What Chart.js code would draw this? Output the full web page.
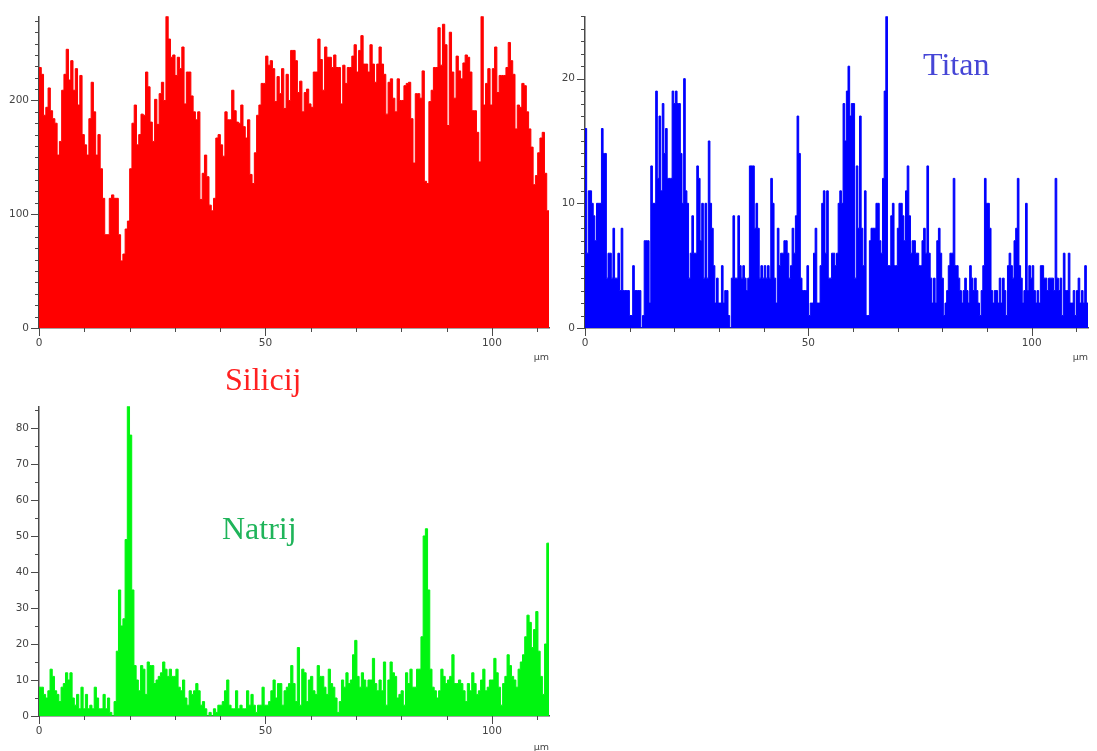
<!DOCTYPE html>
<html>
<head>
<meta charset="utf-8">
<script src="https://cdn.jsdelivr.net/npm/chart.js@4.4.1/dist/chart.umd.min.js"></script>
<style>
  html, body { margin: 0; padding: 0; background: #fff; overflow: hidden; }
  body { width: 1097px; height: 751px; position: relative; }
  canvas { position: absolute; }
  .name { position: absolute; font-family: "Liberation Serif", "Times New Roman", serif; font-size: 32px; line-height: 1; white-space: nowrap; }
</style>
</head>
<body>
<canvas id="si" width="560" height="370" style="left:0;top:0"></canvas>
<canvas id="ti" width="549" height="370" style="left:548px;top:0"></canvas>
<canvas id="na" width="560" height="370" style="left:0;top:390px"></canvas>
<div class="name" style="left:225px;top:363px;color:#ff2020">Silicij</div>
<div class="name" style="left:923px;top:48px;color:#4646d6">Titan</div>
<div class="name" style="left:222px;top:512px;color:#1fb45a">Natrij</div>
<script>
// line scan length in µm
const scanLength = 112.6;

const xTickLabels = [0, 50, 100];
const siliconTicks = [0, 100, 200];
const titanTicks = [0, 10, 20];
const sodiumTicks = [0, 10, 20, 30, 40, 50, 60, 70, 80];

// Silicij counts (red)
const silicon = [
  229, 223, 187, 194, 211, 191, 184, 180, 152, 164,
  209, 223, 245, 218, 235, 209, 228, 196, 222, 170,
  161, 152, 184, 216, 190, 152, 170, 140, 114, 82,
  82, 114, 117, 114, 114, 82, 59, 65, 87, 94,
  140, 180, 196, 161, 170, 188, 187, 225, 212, 181,
  164, 201, 179, 206, 216, 200, 274, 254, 238, 240,
  222, 238, 228, 247, 197, 225, 225, 204, 190, 183,
  190, 113, 136, 152, 133, 108, 103, 114, 167, 170,
  161, 151, 190, 183, 183, 209, 191, 181, 180, 196,
  177, 167, 183, 135, 127, 154, 187, 196, 215, 215,
  239, 231,
  235, 228, 199, 221, 206, 228, 193, 223, 200, 244, 244,
  235, 207, 217, 190, 207, 210, 197, 194, 225, 225,
  254, 236, 209, 247, 238, 238, 229, 240, 229, 229, 197,
  231, 215, 229, 229, 239, 249, 225, 244, 257, 232, 232,
  225, 249, 232, 216, 232, 247, 232, 223, 188, 216,
  219, 202, 190, 219, 200, 200, 213, 215, 216, 184, 145,
  206, 206, 202, 226, 129, 127, 199, 209, 229, 229, 264,
  231, 267, 249, 178, 260, 225, 202, 239, 226, 219,
  233, 240, 238, 225, 191, 191, 172, 146, 274, 196, 215,
  228, 196, 228, 247, 207, 222, 222, 222, 229, 251, 235,
  223, 175, 196, 194, 215, 213, 190, 175, 159, 126,
  134, 154, 167, 172, 136, 103
];

// Titan counts (blue)
const titan = [
  16, 6, 11, 11, 10, 9, 7, 10, 10, 10,
  16, 14, 14, 4, 6, 6, 4, 8, 4, 4,
  6, 3, 8, 3, 3, 3, 3, 1, 1, 5,
  3, 3, 3, 3, 0, 1, 7, 7, 7, 2,
  13, 10, 10, 19, 12, 17, 11, 18, 14, 16,
  12, 12, 12, 19, 18, 19, 18, 18, 14, 10,
  20, 11, 10, 4, 6, 9, 6, 6, 13, 12,
  7, 10, 4, 10, 4, 15, 10, 8, 5, 2,
  4, 2, 2, 5, 2, 3, 3, 1, 0, 4,
  9, 4, 4, 9, 5, 4, 5, 4, 3, 4,
  13, 13, 13, 8, 10, 8, 4, 5, 4, 5,
  4, 5, 4, 12, 10, 4, 2, 8, 5, 6,
  6, 7, 7, 6, 4, 5, 8, 6, 9, 17,
  14, 4, 3, 3, 3, 5, 1, 2, 2, 6,
  8, 2, 2, 5, 10, 11, 6,
  11, 4, 4, 6, 6, 5, 6, 10, 11, 10,
  18, 15, 19, 21, 17, 18, 18, 4, 13, 8,
  17, 8, 5, 11, 1, 1, 7, 8, 8, 8,
  10, 10, 7, 6, 12, 19, 25, 5, 5, 9,
  10, 5, 5, 8, 10, 10, 9, 7, 11, 13,
  9, 6, 7, 7, 6, 6, 5, 5, 7, 8,
  6, 13, 6, 4, 2, 4, 2, 7, 8, 6,
  4, 1, 2, 3, 5, 6, 6, 12, 5, 5,
  4, 3, 2, 3, 4, 3, 2, 5, 4, 3,
  4, 3, 2, 1, 3, 5, 12, 10, 10, 8,
  3, 2, 3, 3, 2, 4, 2, 4, 3, 1,
  5, 6, 5, 4, 7, 8, 12, 5, 4, 2,
  3, 10, 3, 5, 4, 5, 3, 2, 3, 2,
  5, 5, 4, 4, 3, 4, 4, 4, 3, 12,
  4, 3, 4, 1, 6, 3, 3, 6, 2, 2,
  3, 1, 3, 4, 2, 3, 2, 5, 2
];

// Natrij counts (green)
const sodium = [
  8, 8, 6, 5, 7, 13, 11, 7, 6, 4,
  8, 9, 12, 10, 12, 5, 3, 6, 2, 8,
  2, 6, 2, 3, 2, 8, 5, 2, 2, 6,
  2, 5, 1, 0, 4, 18, 35, 25, 27, 49,
  86, 78, 35, 14, 10, 7, 14, 13, 6, 15,
  14, 14, 9, 10, 11, 12, 15, 13, 11, 13,
  11, 11, 13, 8, 7, 10, 5, 3, 7, 6,
  7, 9, 7, 3, 4, 2, 0, 1, 0, 2,
  1, 3, 3, 4, 7, 10, 3, 2, 2, 7,
  2, 3, 2, 2, 7, 3, 6, 3, 1, 3,
  3, 8, 3, 3, 4,
  7, 10, 5, 9, 9, 3, 7, 8, 9, 14,
  9, 4, 19, 3, 13, 12, 4, 10, 11, 7,
  6, 14, 11, 11, 8, 6, 13, 9, 8, 5,
  1, 4, 10, 8, 12, 9, 10, 17, 21, 11,
  8, 12, 10, 8, 10, 10, 16, 9, 7, 10,
  7, 15, 3, 10, 15, 12, 11, 5, 6, 7,
  3, 12, 9, 13, 8, 8, 13, 13, 22, 50,
  52, 35, 13, 8, 7, 5, 7, 13, 11, 9,
  10, 11, 17, 9, 9, 10, 9, 7, 4, 9,
  7, 12, 9, 6, 7, 10, 13, 7, 8, 10,
  10, 16, 12, 8, 3, 9, 11, 17, 14, 11,
  10, 8, 13, 15, 17, 22, 28, 26, 19, 24,
  29, 18, 11, 6, 20, 48
];

const AXIS = '#4a4a4a';
const TICK_FONT = { family: '"DejaVu Sans", Arial, sans-serif', size: 10.5 };

// short/long tick marks along both axes
const tickMarks = {
  id: 'tickMarks',
  afterDraw(chart, args, opts) {
    const { ctx } = chart;
    const xs = chart.scales.x, ys = chart.scales.y;
    ctx.save();
    ctx.strokeStyle = AXIS;
    ctx.lineWidth = 1;
    ctx.beginPath();
    for (let i = 0; i * 10 <= xs.max; i++) {
      const px = Math.round(xs.getPixelForValue(i * 10)) + 0.5;
      const len = (i * 10) % 50 === 0 ? 8 : 4;
      ctx.moveTo(px, xs.top);
      ctx.lineTo(px, xs.top + len);
    }
    for (let i = 0; i * opts.minor <= ys.max + 1e-9; i++) {
      const v = i * opts.minor;
      const py = Math.round(ys.getPixelForValue(v)) + 0.5;
      const len = opts.major.includes(v) ? 8 : 4;
      ctx.moveTo(ys.right - len, py);
      ctx.lineTo(ys.right, py);
    }
    ctx.stroke();
    ctx.restore();
  }
};

function profile(values) {
  const step = scanLength / values.length;
  const pts = values.map((v, i) => ({ x: i * step, y: v }));
  pts.push({ x: scanLength, y: values[values.length - 1] });
  return pts;
}

function drawProfile(id, values, color, yMax, majors, minor, pad, yWidth, xHeight) {
  return new Chart(document.getElementById(id), {
    type: 'line',
    data: {
      datasets: [{
        data: profile(values),
        stepped: true,
        fill: 'origin',
        borderColor: color,
        backgroundColor: color,
        borderWidth: 1,
        pointRadius: 0
      }]
    },
    options: {
      responsive: false,
      animation: false,
      layout: { padding: pad },
      plugins: {
        legend: { display: false },
        tooltip: { enabled: false },
        tickMarks: { major: majors, minor: minor }
      },
      scales: {
        x: {
          type: 'linear',
          min: 0,
          max: scanLength,
          grid: { display: false, drawTicks: false },
          border: { display: true, color: AXIS, width: 1.5 },
          ticks: {
            stepSize: 50,
            autoSkip: false,
            maxRotation: 0,
            padding: 9,
            color: '#444',
            font: TICK_FONT,
            callback: v => xTickLabels.includes(v) ? String(v) : ''
          },
          title: { display: true, text: 'µm', align: 'end', color: '#444', font: { family: TICK_FONT.family, size: 9.5 }, padding: { top: 0, bottom: 7 } },
          afterFit: s => { s.height = xHeight; }
        },
        y: {
          min: 0,
          max: yMax,
          grid: { display: false, drawTicks: false },
          border: { display: true, color: AXIS, width: 1.5 },
          ticks: {
            stepSize: majors[1] - majors[0],
            autoSkip: false,
            padding: 10,
            color: '#444',
            font: TICK_FONT,
            callback: v => majors.includes(v) ? String(v) : ''
          },
          afterFit: s => { s.width = yWidth; }
        }
      }
    },
    plugins: [tickMarks]
  });
}

drawProfile('si', silicon, '#ff0000', 274, siliconTicks, 10, { top: 14, right: 11, left: 0, bottom: 0 }, 39, 42);
drawProfile('ti', titan, '#0000ff', 25, titanTicks, 1, { top: 13, right: 2, left: 0, bottom: 0 }, 37, 42);
drawProfile('na', sodium, '#00f510', 86, sodiumTicks, 5, { top: 13, right: 11, left: 0, bottom: 0 }, 39, 44);
</script>
</body>
</html>
